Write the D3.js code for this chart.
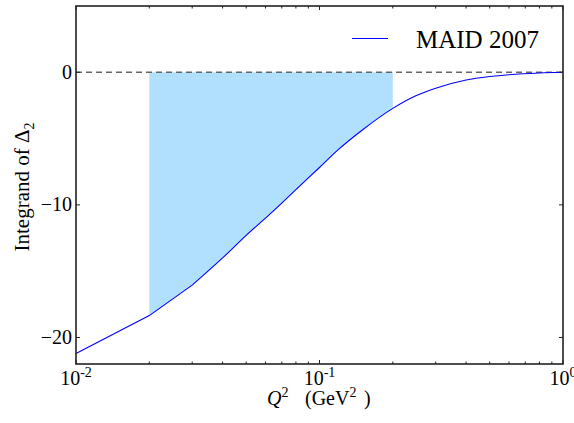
<!DOCTYPE html>
<html>
<head>
<meta charset="utf-8">
<script src="https://cdn.jsdelivr.net/npm/d3@7"></script>
<style>
  body { margin: 0; background: #fff; }
  text { font-family: "Liberation Serif", "DejaVu Serif", serif; fill: #000; }
</style>
</head>
<body>
<script>
// MAID 2007 integrand of Delta_2 vs Q^2
const q2 = [0.01, 0.02, 0.03, 0.04, 0.05, 0.06, 0.07, 0.08, 0.1, 0.12, 0.15, 0.2, 0.25, 0.3, 0.4, 0.5, 0.6, 0.8, 1.0];
const integrand = [-21.2, -18.35, -16.05, -14.0, -12.3, -11.0, -9.86, -8.85, -7.18, -5.8, -4.35, -2.72, -1.75, -1.2, -0.58, -0.32, -0.18, -0.05, 0];
const fillRange = [0.02, 0.2];
const yTicks = [-20, -10, 0];
const xMajor = [0.01, 0.1, 1];
const seriesName = "MAID 2007";

const width = 574, height = 423;
const margin = {left: 76, right: 11, top: 6, bottom: 59};

const svg = d3.select("body").append("svg")
  .attr("width", width)
  .attr("height", height);

const x = d3.scaleLog().domain([0.01, 1]).range([margin.left, width - margin.right]);
const y = d3.scaleLinear().domain([-22, 5]).range([height - margin.bottom, margin.top]);

const data = q2.map((d, i) => ({q: d, v: integrand[i]}));

// curve: straight pieces at the low end, smooth from 0.03 up
const low = data.filter(d => d.q <= 0.03);
const high = data.filter(d => d.q >= 0.03);
const lineLow = d3.line().x(d => x(d.q)).y(d => y(d.v));
const lineHigh = d3.line().x(d => x(d.q)).y(d => y(d.v)).curve(d3.curveMonotoneX);

// shaded region between the curve and zero, 0.02 .. 0.2, as one path
const shadedLow = low.filter(d => d.q >= fillRange[0]);
const shadedHigh = high.filter(d => d.q <= fillRange[1]);
const fillD = lineLow(shadedLow) + lineHigh(shadedHigh).replace(/^M/, "L") +
  `L${x(fillRange[1])},${y(0)}L${x(fillRange[0])},${y(0)}Z`;
svg.append("path")
  .attr("fill", "#b0e0fd")
  .attr("d", fillD);

// zero line
svg.append("line")
  .attr("x1", x(0.01)).attr("x2", x(1))
  .attr("y1", y(0)).attr("y2", y(0))
  .attr("stroke", "#666").attr("stroke-width", 1.5)
  .attr("stroke-dasharray", "6,4");

svg.append("path")
  .attr("fill", "none")
  .attr("stroke", "#0000ff")
  .attr("stroke-width", 1.1)
  .attr("d", lineLow(low) + lineHigh(high).replace(/^M/, "L"));

// frame
const x0 = x.range()[0], x1 = x.range()[1], y0 = y.range()[0], y1 = y.range()[1];
svg.append("rect")
  .attr("x", x0).attr("y", y1)
  .attr("width", x1 - x0).attr("height", y0 - y1)
  .attr("fill", "none").attr("stroke", "#222").attr("stroke-width", 1.6);

// x ticks (inward, bottom and top)
const minor = [];
[0.01, 0.1].forEach(b => { for (let k = 2; k <= 9; k++) minor.push(b * k); });
const tg = svg.append("g").attr("stroke", "#222").attr("stroke-width", 1);
xMajor.forEach(t => {
  tg.append("line").attr("x1", x(t)).attr("x2", x(t)).attr("y1", y0).attr("y2", y0 - 4);
  tg.append("line").attr("x1", x(t)).attr("x2", x(t)).attr("y1", y1).attr("y2", y1 + 4);
});
minor.forEach(t => {
  tg.append("line").attr("x1", x(t)).attr("x2", x(t)).attr("y1", y0).attr("y2", y0 - 2.5);
  tg.append("line").attr("x1", x(t)).attr("x2", x(t)).attr("y1", y1).attr("y2", y1 + 2.5);
});
yTicks.forEach(t => {
  tg.append("line").attr("x1", x0).attr("x2", x0 + 4).attr("y1", y(t)).attr("y2", y(t));
  tg.append("line").attr("x1", x1).attr("x2", x1 - 4).attr("y1", y(t)).attr("y2", y(t));
});

// y tick labels
svg.selectAll(".ylab").data(yTicks).enter().append("text")
  .attr("x", x0 - 4).attr("y", d => y(d) + 6.5)
  .attr("text-anchor", "end").attr("font-size", 20)
  .text(d => d < 0 ? "\u2212" + Math.abs(d) : d);

// x tick labels 10^n
xMajor.forEach(t => {
  const e = Math.round(Math.log10(t));
  const txt = svg.append("text")
    .attr("x", x(t)).attr("y", y0 + 21)
    .attr("text-anchor", "middle").attr("font-size", 20);
  txt.append("tspan").text("10");
  txt.append("tspan").attr("dy", -8).attr("font-size", 14).text(e === 0 ? "0" : "-" + Math.abs(e));
});

// axis labels
const xl = svg.append("text")
  .attr("x", 267).attr("y", 405)
  .attr("font-size", 20);
xl.append("tspan").attr("font-style", "italic").text("Q");
xl.append("tspan").attr("dy", -8).attr("font-size", 14).text("2");
xl.append("tspan").attr("x", 305).attr("dy", 8).text("(GeV");
xl.append("tspan").attr("dy", -8).attr("font-size", 14).text("2");
xl.append("tspan").attr("x", 364).attr("dy", 8).text(")");

const yl = svg.append("text")
  .attr("transform", `translate(29,${(y0 + y1) / 2 + 2}) rotate(-90)`)
  .attr("text-anchor", "middle").attr("font-size", 21);
yl.append("tspan").text("Integrand of \u0394");
yl.append("tspan").attr("dy", 5).attr("font-size", 14).text("2");

// legend
svg.append("line")
  .attr("x1", 352).attr("x2", 388).attr("y1", 38.5).attr("y2", 38.5)
  .attr("stroke", "#0000ff").attr("stroke-width", 1.1);
svg.append("text")
  .attr("x", 416).attr("y", 48)
  .attr("font-size", 25)
  .text(seriesName);
</script>
</body>
</html>
